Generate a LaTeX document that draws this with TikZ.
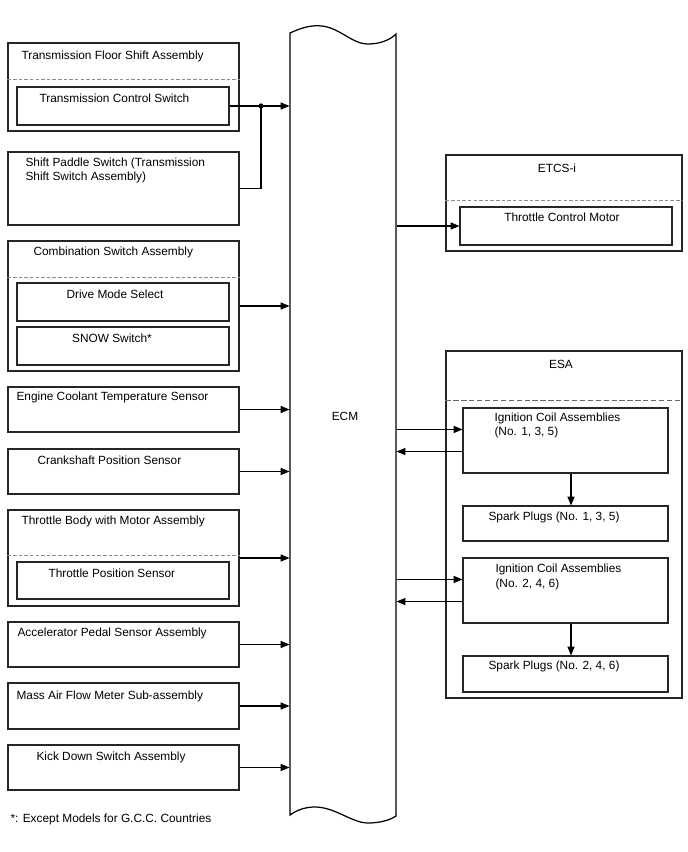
\documentclass[tikz,border=0pt]{standalone}
\usepackage{fontspec}
\setmainfont{Liberation Sans}
\usetikzlibrary{arrows.meta,fit}

\begin{document}
\begin{tikzpicture}[
    x=0.02cm,y=-0.02cm,
    font=\fontsize{6.75}{8.4}\selectfont,
    line width=0.6pt,
    box/.style={draw=black!85,fill=none,inner sep=0pt},
    txt/.style={inner sep=0pt,anchor=west,align=left},
    ctxt/.style={inner sep=0pt,align=center},
    arrow/.style={-{Triangle[length=5pt,width=4pt]},line width=0.6pt},
    sep/.style={draw=black!45,line width=0.5pt,dash pattern=on 2pt off 1.2pt}
]
% canvas in pixel units of the reference
\path[use as bounding box] (0,0) rectangle (688,852);

% ECM, a tall sheet with wavy ends
\node[fit={(290,34) (396,816)},inner sep=0pt] (ecm) {};
\draw[fill=white,line width=0.7pt] (290,815) -- (290,33)
    .. controls (303,27) and (312,25) .. (322,26)
    .. controls (340,28) and (352,44) .. (368,44)
    .. controls (380,44) and (390,40) .. (396,34)
    -- (396,816)
    .. controls (390,820) and (380,823) .. (368,823)
    .. controls (352,823) and (335,807) .. (315,807)
    .. controls (305,807) and (297,810) .. (290,815) -- cycle;
\node[ctxt] (ecmlbl) at (345,416) {ECM};

% left column: inputs
\node[box,fit={(8,43) (239,131)}] (tfs) {};
\node[txt] (tfslbl) at (21,56) {Transmission Floor Shift Assembly};
\draw[sep] ([yshift=-0.74cm]tfs.north west) -- ([yshift=-0.74cm]tfs.north east);
\node[box,fit={(17,87) (229,125)}] (tcs) {};
\node[txt] (tcslbl) at (39,98) {Transmission Control Switch};

\node[box,fit={(8,152) (239,225)}] (sps) {};
\node[txt] (spslbl) at (25,170.5) {Shift Paddle Switch (Transmission\\Shift Switch Assembly)};

\node[box,fit={(8,241) (239,371)}] (csa) {};
\node[txt] (csalbl) at (33,252) {Combination Switch Assembly};
\draw[sep] ([yshift=-0.74cm]csa.north west) -- ([yshift=-0.74cm]csa.north east);
\node[box,fit={(17,283) (229,321)}] (dms) {};
\node[ctxt] (dmslbl) at (115,294) {Drive Mode Select};
\node[box,fit={(17,327) (229,365)}] (snow) {};
\node[ctxt] (snowlbl) at (112,338) {SNOW Switch*};

\node[box,fit={(8,387) (239,432)}] (ect) {};
\node[txt] (ectlbl) at (16,397) {Engine Coolant Temperature Sensor};

\node[box,fit={(8,449) (239,494)}] (ckp) {};
\node[txt] (ckplbl) at (37,460) {Crankshaft Position Sensor};

\node[box,fit={(8,510) (239,606)}] (tbm) {};
\node[txt] (tbmlbl) at (21,521) {Throttle Body with Motor Assembly};
\draw[sep] ([yshift=-0.92cm]tbm.north west) -- ([yshift=-0.92cm]tbm.north east);
\node[box,fit={(17,562) (229,599)}] (tps) {};
\node[txt] (tpslbl) at (48,573) {Throttle Position Sensor};

\node[box,fit={(8,622) (239,667)}] (aps) {};
\node[txt] (apslbl) at (17,633) {Accelerator Pedal Sensor Assembly};

\node[box,fit={(8,683) (239,729)}] (maf) {};
\node[txt] (maflbl) at (16,696) {Mass Air Flow Meter Sub-assembly};

\node[box,fit={(8,745) (239,790)}] (kds) {};
\node[txt] (kdslbl) at (36,757) {Kick Down Switch Assembly};

\node[txt] (gcc) at (10,819) {*: Except Models for G.C.C. Countries};

% right column: outputs
\node[box,fit={(446,155) (682,251)}] (etcs) {};
\node[ctxt] (etcslbl) at (557,168) {ETCS-i};
\draw[sep] ([yshift=-0.92cm]etcs.north west) -- ([yshift=-0.92cm]etcs.north east);
\node[box,fit={(460,207) (672,245)}] (tcm) {};
\node[ctxt] (tcmlbl) at (562,217) {Throttle Control Motor};

\node[box,fit={(446,351) (682,698)}] (esa) {};
\node[ctxt] (esalbl) at (561,364) {ESA};
\draw[sep,dash pattern=on 3pt off 1.5pt,draw=black!60] ([yshift=-1cm]esa.north west) -- ([yshift=-1cm]esa.north east);
\node[box,fit={(463,408) (668,473)}] (igA) {};
\node[txt] (igAlbl) at (494,425.5) {Ignition Coil Assemblies\\(No. 1, 3, 5)};
\node[box,fit={(463,506) (668,541)}] (spA) {};
\node[txt] (spAlbl) at (488,517) {Spark Plugs (No. 1, 3, 5)};
\node[box,fit={(463,558) (668,623)}] (igB) {};
\node[txt] (igBlbl) at (495,577) {Ignition Coil Assemblies\\(No. 2, 4, 6)};
\node[box,fit={(463,656) (668,692)}] (spB) {};
\node[txt] (spBlbl) at (488,666) {Spark Plugs (No. 2, 4, 6)};

% signal lines into the ECM
\coordinate (join) at (261,106);
\draw[arrow] (tcs.east) -- (ecm.west |- tcs.east);
\draw (sps.east) -| (join);
\fill (join) circle (1.5pt);
\foreach \src in {csa,ect,ckp,tbm,aps,maf,kds}
    \draw[arrow] (\src.east) -- (ecm.west |- \src.east);

% ECM outputs and ignition feedback
\draw[arrow] (ecm.east |- tcm.west) -- (tcm.west);
\foreach \ig/\sp in {igA/spA,igB/spB}{
    \coordinate (\ig in) at ([yshift=-0.44cm]\ig.north west);
    \coordinate (\ig out) at ([yshift=0.44cm]\ig.south west);
    \draw[arrow] (ecm.east |- \ig in) -- (\ig in);
    \draw[arrow] (\ig out) -- (ecm.east |- \ig out);
    \draw[arrow] ([xshift=0.11cm]\ig.south) -- ([xshift=0.11cm]\sp.north);
}
\end{tikzpicture}
\end{document}
